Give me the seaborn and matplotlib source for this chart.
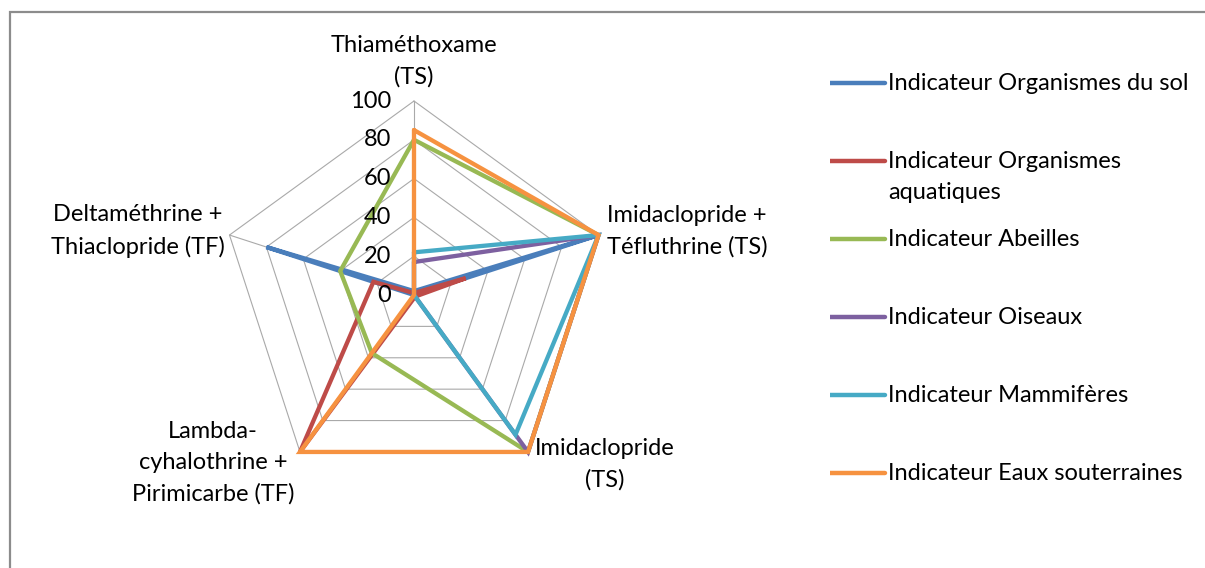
import numpy as np
import pandas as pd
import matplotlib
matplotlib.use("Agg")
import matplotlib.pyplot as plt
import seaborn as sns
from matplotlib.transforms import offset_copy
from matplotlib.patches import Rectangle

# ---------------- data ----------------
categories = [
    "Thiaméthoxame\n(TS)",
    "Imidaclopride +\nTéfluthrine (TS)",
    "Imidaclopride\n(TS)",
    "Lambda-\ncyhalothrine +\nPirimicarbe (TF)",
    "Deltaméthrine +\nThiaclopride (TF)",
]
series_names = [
    "Indicateur Organismes du sol",
    "Indicateur Organismes\naquatiques",
    "Indicateur Abeilles",
    "Indicateur Oiseaux",
    "Indicateur Mammifères",
    "Indicateur Eaux souterraines",
]
sol = [2, 100, 0, 0, 80]
aquatiques = [1, 28, 1, 100, 22]
abeilles = [80, 100, 100, 37, 40]
oiseaux = [17, 100, 100, 0, 0]
mammiferes = [22, 100, 89, 0, 0]
eaux = [85, 100, 100, 100, 0]
radial_ticks = [0, 20, 40, 60, 80, 100]
colors = ["#4A7EBB", "#BE4B48", "#98B954", "#7D60A0", "#46AAC5", "#F69240"]

all_series = [sol, aquatiques, abeilles, oiseaux, mammiferes, eaux]

# ---------------- style ----------------
sns.set_theme(style="white")
FONT = ["Lato", "DejaVu Sans"]
plt.rcParams["font.family"] = FONT
FS = 17
LS = 1.6

fig = plt.figure(figsize=(12.05, 5.68), dpi=100)
fig.patch.set_facecolor("white")

# chart area border (top & left visible, the rest cut by the screenshot)
fig.add_artist(Rectangle((10 / 1205, -0.2), 1.5, 1.2 - 12 / 568,
                         transform=fig.transFigure, fill=False,
                         ec="#8C8C8C", lw=1.6, zorder=0))

# polar axes: centre (414, 295) px, radius 194 px
W, H = 1205, 568
cx, cy, R = 414, 295, 194
ax = fig.add_axes([(cx - R) / W, (H - cy - R) / H, 2 * R / W, 2 * R / H],
                  projection="polar")
ax.set_theta_offset(np.pi / 2)
ax.set_theta_direction(-1)
ax.set_ylim(0, 100)
ax.grid(False)
ax.set_xticks([])
ax.set_yticks([])
ax.spines["polar"].set_visible(False)
ax.patch.set_alpha(0)

n = len(categories)
angles = np.arange(n) * 2 * np.pi / n
angles_closed = np.append(angles, 2 * np.pi)

grid_col = "#A9A9A9"
for lvl in radial_ticks[1:]:
    ax.plot(angles_closed, [lvl] * (n + 1), color=grid_col, lw=0.8,
            zorder=1, clip_on=False)
for a in angles:
    ax.plot([a, a], [0, 100], color=grid_col, lw=0.8, zorder=1, clip_on=False)

# long-form data for seaborn
rows = []
for name, vals in zip(series_names, all_series):
    for t, v in zip(angles_closed, list(vals) + [vals[0]]):
        rows.append({"serie": name, "theta": t, "valeur": v})
df = pd.DataFrame(rows)

n_before = len(ax.lines)
sns.lineplot(data=df, x="theta", y="valeur", hue="serie",
             hue_order=series_names, palette=colors, sort=False,
             estimator=None, linewidth=3.1, legend=False, ax=ax)
for ln in ax.lines[n_before:]:
    ln.set_clip_on(False)
    ln.set_zorder(3)
    ln.set_solid_joinstyle("miter")
ax.set_xlabel("")
ax.set_ylabel("")
ax.set_ylim(0, 100)

# radial tick labels (left of the vertical axis)
tr_ticks = offset_copy(ax.transData, fig=fig, x=-23, y=0, units="dots")
for lvl in radial_ticks:
    ax.text(0, lvl, str(lvl), transform=tr_ticks, ha="right", va="center",
            fontsize=FS, color="black")

# category labels
label_cfg = [
    (0, 13, "center", "bottom"),
    (8, 4, "left", "center"),
    (77, 14, "center", "top"),
    (-87, -11, "center", "center"),
    (-92, 4, "center", "center"),
]
for a, lab, (dx, dy, ha, va) in zip(angles, categories, label_cfg):
    tr = offset_copy(ax.transData, fig=fig, x=dx, y=dy, units="dots")
    ax.text(a, 100, lab, transform=tr, ha=ha, va=va, fontsize=FS,
            color="black", multialignment="center", linespacing=LS)

# legend (manual, Excel-like uniform slots)
lax = fig.add_axes([830 / W, (H - 512) / H, (W - 830) / W, 468 / H])
lax.set_xlim(0, 1)
lax.set_ylim(len(series_names) - 0.5, -0.5)
lax.axis("off")
tr_leg = offset_copy(lax.transData, fig=fig, x=0, y=10, units="dots")
for i, (name, col) in enumerate(zip(series_names, colors)):
    lax.plot([0, 0.147], [i, i], color=col, lw=3.2, solid_capstyle="round")
    lax.text(0.155, i, name, transform=tr_leg, ha="left", va="top",
             fontsize=FS, color="black", linespacing=LS)

fig.savefig("out.png", dpi=100, facecolor="white")
